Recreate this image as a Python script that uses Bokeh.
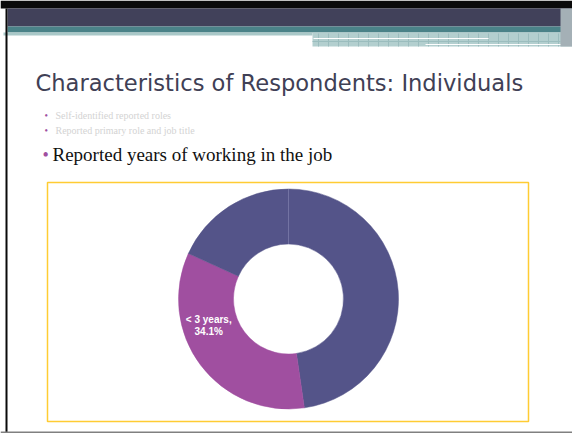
import math
from bokeh.plotting import figure
from bokeh.models import Range1d, ColumnDataSource
from bokeh.core.properties import value
from bokeh.embed import file_html
from bokeh.resources import INLINE

# ---- data ----
categories = ["3-10 years", "< 3 years", "> 10 years"]
shares = [47.7, 34.1, 18.2]
slice_colors = ["#545489", "#A04FA0", "#545489"]
label_shown = [False, True, False]

title_text = "Characteristics of Respondents: Individuals"
bullets_small = ["Self-identified reported roles", "Reported primary role and job title"]
bullet_main = "Reported years of working in the job"

W, H = 572, 433
def Y(y):
    return H - y

p = figure(width=W, height=H, output_backend="svg", toolbar_location=None,
           x_range=Range1d(0, W), y_range=Range1d(0, H), min_border=0,
           background_fill_color="white", border_fill_color="white")
p.axis.visible = False
p.grid.visible = False
p.outline_line_color = None

# ---- slide decoration ----
p.quad(left=0, right=W, top=Y(0), bottom=Y(8), fill_color="#0a0a0a", line_color=None)
p.quad(left=7, right=W, top=Y(8), bottom=Y(26), fill_color="#41415A", line_color=None)
p.quad(left=7, right=W, top=Y(26), bottom=Y(32), fill_color="#4A8288", line_color=None)
p.quad(left=3, right=312, top=Y(32), bottom=Y(35), fill_color="#A9C8C8", line_color=None)
p.quad(left=312, right=W, top=Y(32), bottom=Y(46), fill_color="#B3CFCF", line_color=None)
for gx in range(318, 560, 10):
    p.segment(x0=gx, y0=Y(33), x1=gx, y1=Y(46), line_color="#9BBDBE", line_width=1)
p.segment(x0=312, y0=Y(41), x1=560, y1=Y(41), line_color="#9BBDBE", line_width=1)
p.segment(x0=313, y0=Y(38), x1=488, y1=Y(38), line_color="white", line_width=1)
p.segment(x0=425, y0=Y(44), x1=566, y1=Y(44), line_color="white", line_width=1)
p.quad(left=560, right=W, top=Y(8), bottom=Y(46), fill_color="#A4B0B6", line_color=None)
p.quad(left=5, right=7, top=Y(8), bottom=Y(433), fill_color="#0a0a0a", line_color=None)
p.quad(left=0, right=W, top=Y(431), bottom=Y(433), fill_color="#808080", line_color=None)

# ---- texts ----
p.text(x=[35], y=[Y(82)], text=[title_text], text_font=value("DejaVu Sans"),
       text_font_size="22.6px", text_color="#404055", text_baseline="alphabetic")
by = [Y(115), Y(130)]
p.text(x=[44, 44], y=by, text=["•", "•"], text_font=value("Liberation Serif"),
       text_font_size="10px", text_color="#A04FA0", text_baseline="middle")
p.text(x=[55, 55], y=by, text=bullets_small, text_font=value("Liberation Serif"),
       text_font_size="10px", text_color="#D3D3D3", text_baseline="middle")
p.text(x=[42], y=[Y(154)], text=["•"], text_font=value("Liberation Serif"),
       text_font_size="18px", text_color="#A04FA0", text_baseline="middle")
p.text(x=[52], y=[Y(154)], text=[bullet_main], text_font=value("Liberation Serif"),
       text_font_size="19px", text_color="#111111", text_baseline="middle")

# ---- chart frame ----
p.quad(left=47, right=528, top=Y(182), bottom=Y(421), fill_color=None,
       line_color="#FFCC33", line_width=1.5)

# ---- donut ----
cx, cy = 288, Y(298.5)
total = sum(shares)
starts, ends, mids = [], [], []
acc = 0.0
for s in shares:
    a0 = acc / total * 2 * math.pi
    acc += s
    a1 = acc / total * 2 * math.pi
    starts.append(math.pi / 2 - a1)
    ends.append(math.pi / 2 - a0)
    mids.append(math.pi / 2 - (a0 + a1) / 2)
src = ColumnDataSource(dict(cat=categories, share=shares, color=slice_colors,
                            start=starts, end=ends))
p.annular_wedge(x=cx, y=cy, inner_radius=55, outer_radius=110,
                start_angle="start", end_angle="end", direction="anticlock",
                fill_color="color", line_color="color", line_width=0.5, source=src)
# thin separator at the top of the ring
p.segment(x0=cx, y0=cy + 55, x1=cx, y1=cy + 110, line_color="#7373A3", line_width=1)

for i, show in enumerate(label_shown):
    if not show:
        continue
    ang = mids[i] - 0.325
    r = 84
    lx = cx + r * math.cos(ang)
    ly = cy + r * math.sin(ang)
    p.text(x=[lx, lx], y=[ly + 5.5, ly - 6.5],
           text=[f"{categories[i]},", f"{shares[i]:.1f}%"],
           text_font=value("Liberation Sans"), text_font_style="bold",
           text_font_size="10px", text_color="white",
           text_align="center", text_baseline="middle")

open("out.html", "w").write(file_html(p, INLINE))
